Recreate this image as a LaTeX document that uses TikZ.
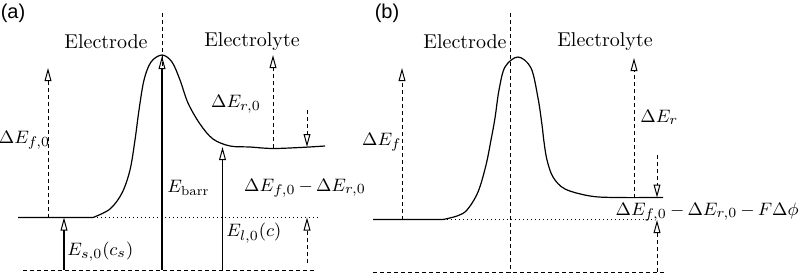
\documentclass[tikz,border=0pt]{standalone}
\usepackage{fontspec}
\newfontfamily\panelfont{Liberation Sans}
\usetikzlibrary{arrows.meta}
\begin{document}
\begin{tikzpicture}[x=0.5pt,y=-0.5pt,
  curve/.style={line width=0.6pt},
  dsh/.style={line width=0.5pt,dash pattern=on 2pt off 1.5pt},
  dtd/.style={line width=0.5pt,dash pattern=on 0.4pt off 1.6pt},
  sld/.style={line width=0.6pt},
  tip/.style={-{Triangle[open,length=6.5pt,width=3.4pt,line width=0.5pt]}},
  lbl/.style={inner sep=0pt,font=\fontsize{10}{12}\selectfont},
  mth/.style={inner sep=0pt,font=\fontsize{9.4}{11}\selectfont},
  pnl/.style={inner sep=0pt,font=\panelfont\fontsize{10}{12}\selectfont}]
\useasboundingbox (0,0) rectangle (801,273);
% ---------------- panel (a)
\node[pnl] (pa) at (13,13) {(a)};
\node[lbl] (elA) at (106,42) {Electrode};
\node[lbl] (lyA) at (252,42) {Electrolyte};
\draw[dsh] (162,13) -- (162,270);
\draw[dsh] (23,270) -- (317,270);
\draw[dtd] (93,217.5) -- (320,217.5);
\draw[curve] (18,217.5) -- (93,217.5)
  plot[smooth,tension=0.55] coordinates {(93,217.5) (110,209) (122,193) (130,170) (135,140) (139,110) (144,80) (151,62) (162,55) (172,62) (180,80) (188,103) (200,124) (213,139) (230,146) (250,147) (272,148.5) (300,147.5) (325,146)};
% arrows (a)
\coordinate (fa0) at (48,217.5); \coordinate (fa1) at (48,68);
\draw[dsh,tip] (fa0) -- (fa1);
\node[mth,anchor=east] (lfa) at (50.5,140) {$\Delta E_{f,0}$};
\coordinate (sa0) at (64,270); \coordinate (sa1) at (64,217.5);
\draw[sld,tip] (sa0) -- (sa1);
\node[mth,anchor=west] (lsa) at (67,252) {$E_{s,0}(c_s)$};
\coordinate (ba0) at (162,270); \coordinate (ba1) at (162,56);
\draw[sld,tip] (ba0) -- (ba1);
\node[mth,anchor=west] (lba) at (167,188) {$E_{\mathrm{barr}}$};
\coordinate (la0) at (222.5,270); \coordinate (la1) at (222.5,147);
\draw[sld,tip] (la0) -- (la1);
\node[mth,anchor=west] (lla) at (226,233) {$E_{l,0}(c)$};
\coordinate (ra0) at (273,148); \coordinate (ra1) at (273,55);
\draw[dsh,tip] (ra0) -- (ra1);
\node[mth] (lra) at (236,104) {$\Delta E_{r,0}$};
\coordinate (da0) at (307,110); \coordinate (da1) at (307,147);
\draw[dsh,tip] (da0) -- (da1);
\coordinate (ua0) at (307,263); \coordinate (ua1) at (307,217.5);
\draw[dsh,tip] (ua0) -- (ua1);
\node[mth] (lda) at (305,188) {$\medmuskip=3mu\relax\Delta E_{f,0}-\Delta E_{r,0}$};
% ---------------- panel (b)
\node[pnl] (pb) at (387,13) {(b)};
\node[lbl] (elB) at (465,42) {Electrode};
\node[lbl] (lyB) at (605,42) {Electrolyte};
\draw[dsh] (510,13) -- (510,273);
\draw[dsh] (373,272) -- (665,272);
\draw[dtd] (443,219.5) -- (655,219.5);
\draw[curve] (373,219.5) -- (443,219.5)
  plot[smooth,tension=0.55] coordinates {(443,219.5) (457,216) (467,210) (478,192) (486,165) (491,140) (495,118) (499,90) (505,67) (518,57) (531,68) (538,98) (542,125) (544,142) (547,160) (553,177) (565,189) (590,196) (615,197.5) (663,197.5)};
\coordinate (fb0) at (402,219.5); \coordinate (fb1) at (402,68);
\draw[dsh,tip] (fb0) -- (fb1);
\node[mth,anchor=east] (lfb) at (402,142) {$\Delta E_f$};
\coordinate (rb0) at (634,197.5); \coordinate (rb1) at (634,58);
\draw[dsh,tip] (rb0) -- (rb1);
\node[mth,anchor=west] (lrb) at (640,117) {$\Delta E_r$};
\coordinate (db0) at (657,155); \coordinate (db1) at (657,197.5);
\draw[dsh,tip] (db0) -- (db1);
\coordinate (ub0) at (657,272); \coordinate (ub1) at (657,220);
\draw[dsh,tip] (ub0) -- (ub1);
\node[mth,anchor=east] (ldb) at (799,212) {$\medmuskip=3mu\relax\Delta E_{f,0}-\Delta E_{r,0}-F\Delta\phi$};
\end{tikzpicture}
\end{document}
